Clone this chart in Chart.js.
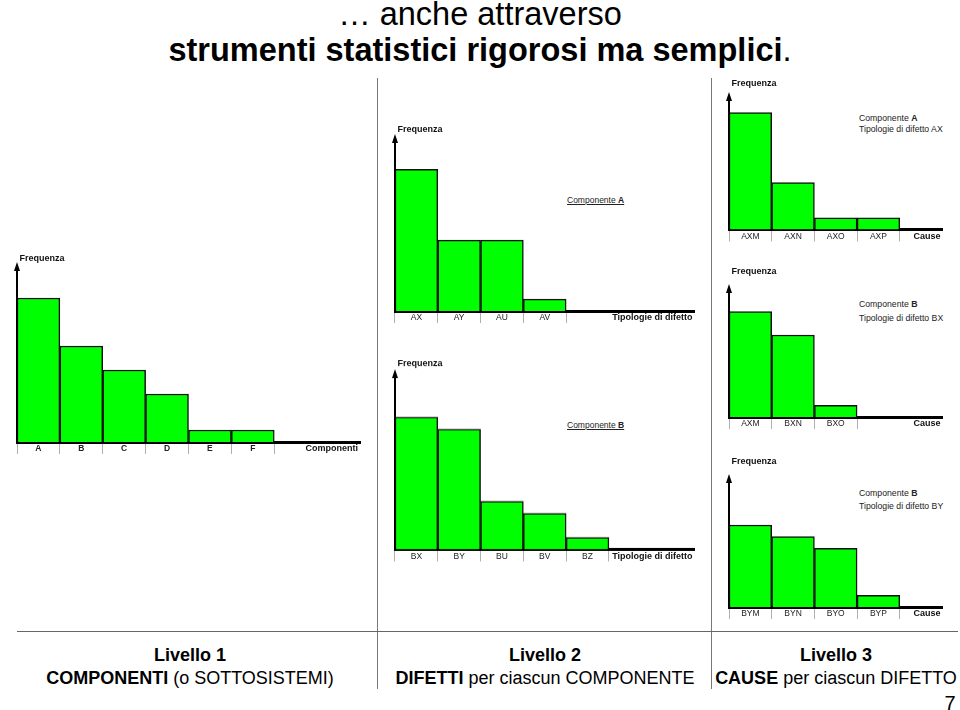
<!DOCTYPE html>
<html><head><meta charset="utf-8">
<script src="https://cdn.jsdelivr.net/npm/chart.js@4.4.0/dist/chart.umd.min.js"></script>
<style>
html,body{margin:0;padding:0;background:#fff;}
body{width:960px;height:710px;position:relative;overflow:hidden;font-family:"Liberation Sans",Arial,sans-serif;color:#000;}
.abs{position:absolute;}
.note{position:absolute;font-size:8.7px;line-height:10px;color:#222;white-space:nowrap;}
.u{text-decoration:underline;}
.lvl{position:absolute;text-align:center;white-space:nowrap;font-size:18px;line-height:22px;}
</style></head><body>

<div class="abs" style="left:0;top:-4px;width:960px;text-align:center;font-size:32.5px;line-height:36px;white-space:nowrap;">… anche attraverso<br><b>strumenti statistici rigorosi ma semplici</b>.</div>

<div class="abs" style="left:376.5px;top:78px;width:1.3px;height:611px;background:#777;"></div>
<div class="abs" style="left:710.5px;top:78px;width:1.3px;height:611px;background:#777;"></div>
<div class="abs" style="left:17px;top:630.5px;width:941px;height:1.6px;background:#666;"></div>

<div class="note u" style="left:567px;top:195px;font-size:8.5px;">Componente <b>A</b></div>
<div class="note u" style="left:567px;top:420px;font-size:8.5px;">Componente <b>B</b></div>
<div class="note" style="left:859px;top:113px;">Componente <b>A</b></div>
<div class="note" style="left:859px;top:123.5px;">Tipologie di difetto AX</div>
<div class="note" style="left:859px;top:299px;">Componente <b>B</b></div>
<div class="note" style="left:859px;top:312.5px;">Tipologie di difetto BX</div>
<div class="note" style="left:859px;top:488px;">Componente <b>B</b></div>
<div class="note" style="left:859px;top:501px;">Tipologie di difetto BY</div>

<div class="lvl" style="left:40px;width:300px;top:644px;"><b>Livello 1</b></div>
<div class="lvl" style="left:40px;width:300px;top:667px;"><b>COMPONENTI</b> (o SOTTOSISTEMI)</div>
<div class="lvl" style="left:385px;width:320px;top:644px;"><b>Livello 2</b></div>
<div class="lvl" style="left:385px;width:320px;top:667px;"><b>DIFETTI</b> per ciascun COMPONENTE</div>
<div class="lvl" style="left:706px;width:260px;top:644px;"><b>Livello 3</b></div>
<div class="lvl" style="left:706px;width:260px;top:667px;"><b>CAUSE</b> per ciascun DIFETTO</div>
<div class="abs" style="left:940px;top:691px;width:20px;text-align:center;font-size:20px;line-height:24px;">7</div>

<div id="holder"></div>

<script>
// ---- data ----
const level1Categories = ['A','B','C','D','E','F'];
const level1Values     = [12, 8, 6, 4, 1, 1];

const compACategories  = ['AX','AY','AU','AV'];
const compAValues      = [12, 6, 6, 1];

const compBCategories  = ['BX','BY','BU','BV','BZ'];
const compBValues      = [11, 10, 4, 3, 1];

const causesAXCategories = ['AXM','AXN','AXO','AXP'];
const causesAXValues     = [10, 4, 1, 1];

const causesBXCategories = ['AXM','BXN','BXO'];
const causesBXValues     = [9, 7, 1];

const causesBYCategories = ['BYM','BYN','BYO','BYP'];
const causesBYValues     = [7, 6, 5, 1];

const yAxisTitle = 'Frequenza';

// ---- layout (not data) ----
const PL = 6, PR = 4, PT = 16, XH = 16;
const panels = [
  {cats: level1Categories,   vals: level1Values,   slots: 8, yMax: 15,    xTitle: 'Componenti',           bold: true,  left: 17,    right: 360, top: 262,   base: 442,   fy: -3},
  {cats: compACategories,    vals: compAValues,    slots: 7, yMax: 15,    xTitle: 'Tipologie di difetto', bold: false, left: 394.5, right: 694, top: 134,   base: 311,   fy: -4},
  {cats: compBCategories,    vals: compBValues,    slots: 7, yMax: 15,    xTitle: 'Tipologie di difetto', bold: false, left: 394.5, right: 694, top: 369,   base: 548.5, fy: -5},
  {cats: causesAXCategories, vals: causesAXValues, slots: 5, yMax: 11.75, xTitle: 'Cause',                bold: false, left: 728.5, right: 942, top: 91.5,  base: 229,   fy: -8},
  {cats: causesBXCategories, vals: causesBXValues, slots: 5, yMax: 11.35, xTitle: 'Cause',                bold: false, left: 728.5, right: 942, top: 283.5, base: 416.5, fy: -12},
  {cats: causesBYCategories, vals: causesBYValues, slots: 5, yMax: 11.35, xTitle: 'Cause',                bold: false, left: 728.5, right: 942, top: 473.5, base: 606.5, fy: -12}
];

const FONT = '"Liberation Sans", Arial, sans-serif';

const decor = {
  id: 'decor',
  afterDraw(chart, args, opts) {
    const ctx = chart.ctx, a = chart.chartArea;
    ctx.save();
    ctx.strokeStyle = '#000';
    ctx.lineWidth = 2;
    ctx.beginPath();
    ctx.moveTo(a.left, a.bottom);
    ctx.lineTo(a.left, a.top + 6);
    ctx.stroke();
    ctx.fillStyle = '#000';
    ctx.beginPath();
    ctx.moveTo(a.left, a.top);
    ctx.lineTo(a.left - 3, a.top + 9);
    ctx.lineTo(a.left + 3, a.top + 9);
    ctx.closePath();
    ctx.fill();
    ctx.fillStyle = '#111';
    ctx.font = 'bold 9px ' + FONT;
    ctx.textBaseline = 'middle';
    ctx.textAlign = 'left';
    ctx.fillText(opts.yTitle, a.left + 2.5, a.top + opts.fy);
    ctx.textAlign = 'right';
    ctx.fillText(opts.xTitle, a.right - 2, a.bottom + 7);
    ctx.restore();
  }
};

const holder = document.getElementById('holder');
panels.forEach((p) => {
  const w = p.right - p.left + PL + PR;
  const h = p.base - p.top + PT + XH;
  const div = document.createElement('div');
  div.className = 'abs';
  div.style.left = (p.left - PL) + 'px';
  div.style.top = (p.top - PT) + 'px';
  div.style.width = w + 'px';
  div.style.height = h + 'px';
  const cv = document.createElement('canvas');
  div.appendChild(cv);
  holder.appendChild(div);

  const labels = p.cats.concat(Array(p.slots - p.cats.length).fill(''));
  const n = p.cats.length;
  new Chart(cv, {
    type: 'bar',
    data: {
      labels: labels,
      datasets: [{
        data: p.vals,
        backgroundColor: '#00ff00',
        borderColor: '#111',
        borderWidth: 1.5,
        borderSkipped: 'bottom',
        categoryPercentage: 1,
        barPercentage: 1
      }]
    },
    options: {
      responsive: true,
      maintainAspectRatio: false,
      animation: false,
      events: [],
      layout: {padding: {left: PL, right: PR, top: PT, bottom: 0}},
      plugins: {
        legend: {display: false},
        tooltip: {enabled: false},
        decor: {yTitle: yAxisTitle, xTitle: p.xTitle, fy: p.fy}
      },
      scales: {
        x: {
          offset: true,
          afterFit: (s) => { s.height = XH; },
          border: {display: true, color: '#000', width: 3},
          grid: {
            display: true, drawOnChartArea: false, drawTicks: true, tickLength: 12, offset: true,
            color: (c) => (c.index <= n ? '#b0b0b0' : 'rgba(0,0,0,0)'), lineWidth: 1
          },
          ticks: {
            autoSkip: false, maxRotation: 0, minRotation: 0, padding: -10,
            color: '#222',
            font: {family: FONT, size: 8.5, weight: p.bold ? 'bold' : 'normal'}
          }
        },
        y: {display: false, min: 0, max: p.yMax}
      }
    },
    plugins: [decor]
  });
});
</script>
</body></html>
